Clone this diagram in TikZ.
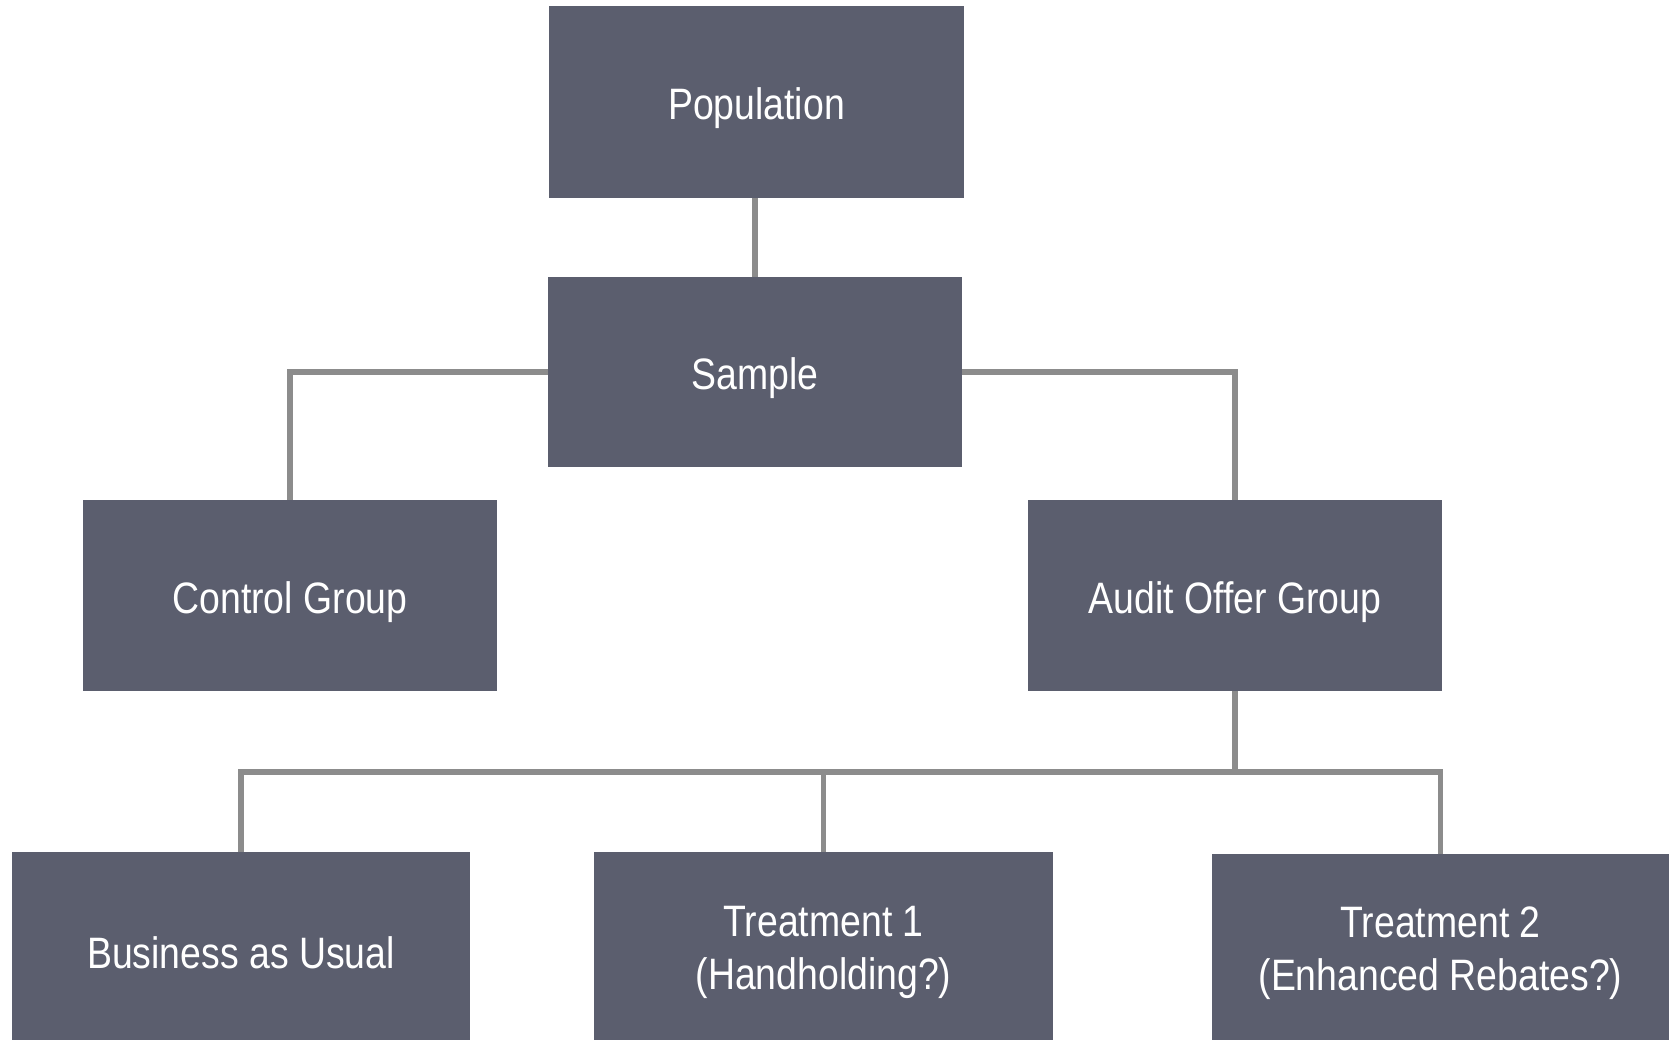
\documentclass[tikz,border=0pt]{standalone}
\usepackage{fontspec}
\setmainfont[FakeStretch=0.85]{Liberation Sans}
\begin{document}
\begin{tikzpicture}[x=0.5pt,y=-0.5pt,
  box/.style={fill=boxfill, draw=none, inner sep=0pt},
  lbl/.style={text=white, align=center, inner sep=0pt, yshift=-3.2pt,
    font=\fontsize{22}{26.5}\selectfont},
  link/.style={draw=linkgray, line width=2.8pt}]
\definecolor{boxfill}{RGB}{91,94,110}
\definecolor{linkgray}{RGB}{140,140,140}
\useasboundingbox (0,0) rectangle (1669,1040);

% boxes (centres and sizes in pixel units)
\node[box, minimum width=207.5pt, minimum height=96pt,
  label={[lbl]center:Population}] (pop) at (756.5,102) {};
\node[box, minimum width=207pt, minimum height=95pt,
  label={[lbl]center:Sample}] (smp) at (755,372) {};
\node[box, minimum width=207pt, minimum height=95.5pt,
  label={[lbl]center:Control Group}] (ctl) at (290,595.5) {};
\node[box, minimum width=207pt, minimum height=95.5pt,
  label={[lbl]center:Audit Offer Group}] (aud) at (1235,595.5) {};
\node[box, minimum width=229pt, minimum height=94pt,
  label={[lbl]center:Business as Usual}] (bau) at (241,946) {};
\node[box, minimum width=229.5pt, minimum height=94pt,
  label={[lbl]center:{Treatment 1\\(Handholding?)}}] (tr1) at (823.5,946) {};
\node[box, minimum width=228.5pt, minimum height=93pt,
  label={[lbl]center:{Treatment 2\\(Enhanced Rebates?)}}] (tr2) at (1440.5,947) {};

% connectors
\coordinate (bus) at (1235,772);
\draw[link] (smp.north) -- (smp.north |- pop.south);
\draw[link] (smp.west) -| (ctl.north);
\draw[link] (smp.east) -| (aud.north);
\draw[link] (aud.south) -- (bus);
\draw[link] (bus) -| (bau.north);
\draw[link] (bus) -| (tr1.north);
\draw[link] (bus) -| (tr2.north);
\end{tikzpicture}
\end{document}
